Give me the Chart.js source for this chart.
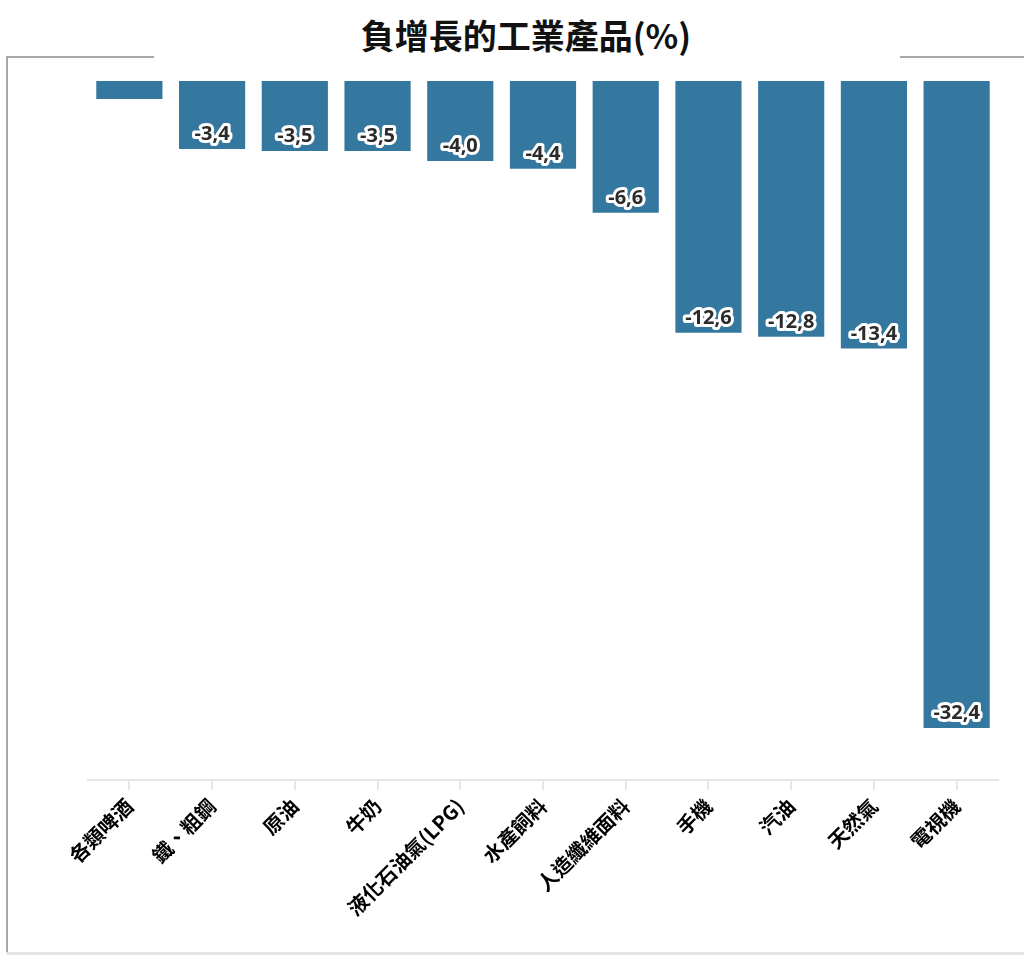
<!DOCTYPE html>
<html>
<head>
<meta charset="utf-8">
<script src="https://cdn.jsdelivr.net/npm/chart.js@4"></script>
<style>
  html, body { margin: 0; padding: 0; background: #fff; }
  #wrap { position: relative; width: 1024px; height: 961px; overflow: hidden; }
  .line { position: absolute; }
  #title {
    position: absolute; left: 14px; width: 1024px; top: 12px; text-align: center;
    font: bold 34px "Noto Sans CJK TC", sans-serif; color: #111; line-height: 46px;
  }
  canvas { position: absolute; left: 0; top: 0; }
</style>
</head>
<body>
<div id="wrap">
  <div class="line" style="left:6px; top:56px; width:2px; height:899px; background:#a8a8a8"></div>
  <div class="line" style="left:6px; top:56px; width:148px; height:2px; background:#a8a8a8"></div>
  <div class="line" style="left:900px; top:56px; width:124px; height:2px; background:#a8a8a8"></div>
  <div class="line" style="left:6px; top:952px; width:1018px; height:3px; background:#e6e6e6"></div>
  <div id="title">負增長的工業產品(%)</div>
  <canvas id="chart" width="1024" height="961"></canvas>
</div>
<script>
const categories = ['各類啤酒', '鐵、粗鋼', '原油', '牛奶', '液化石油氣(LPG)', '水產飼料', '人造纖維面料', '手機', '汽油', '天然氣', '電視機'];
const values = [-0.9, -3.4, -3.5, -3.5, -4.0, -4.4, -6.6, -12.6, -12.8, -13.4, -32.4];
const yMin = -35;
const yMax = 0;

const barLabels = {
  id: 'barLabels',
  afterDatasetsDraw(chart) {
    const ctx = chart.ctx;
    const meta = chart.getDatasetMeta(0);
    ctx.save();
    ctx.font = 'bold 20px "Open Sans", sans-serif';
    ctx.textAlign = 'center';
    ctx.textBaseline = 'alphabetic';
    ctx.lineJoin = 'round';
    meta.data.forEach((bar, i) => {
      const v = values[i];
      if (Math.abs(v) < 2) return;
      const txt = v.toFixed(1).replace('.', ',');
      const y = bar.y - 9;
      ctx.lineWidth = 6;
      ctx.strokeStyle = '#fff';
      ctx.strokeText(txt, bar.x, y);
      ctx.fillStyle = '#2b2b2b';
      ctx.fillText(txt, bar.x, y);
    });
    ctx.restore();
  }
};

new Chart(document.getElementById('chart'), {
  type: 'bar',
  data: {
    labels: categories,
    datasets: [{
      data: values,
      backgroundColor: '#35789f',
      barPercentage: 1,
      categoryPercentage: 0.8
    }]
  },
  options: {
    responsive: false,
    animation: false,
    layout: { padding: { left: 88, right: 26, top: 81, bottom: 0 } },
    plugins: { legend: { display: false }, tooltip: { enabled: false }, title: { display: false } },
    scales: {
      y: { display: false, min: yMin, max: yMax },
      x: {
        afterFit(scale) { scale.height = 181; },
        border: { display: true, color: '#e6e6e6', width: 2 },
        grid: { display: true, offset: false, drawOnChartArea: false, drawTicks: true, tickLength: 10, color: '#e6e6e6', lineWidth: 2 },
        ticks: {
          autoSkip: false, maxRotation: 45, minRotation: 45, padding: 4,
          color: '#000',
          font: { family: '"Noto Sans CJK TC", sans-serif', size: 20, weight: 'bold' }
        }
      }
    }
  },
  plugins: [barLabels]
});
</script>
</body>
</html>
